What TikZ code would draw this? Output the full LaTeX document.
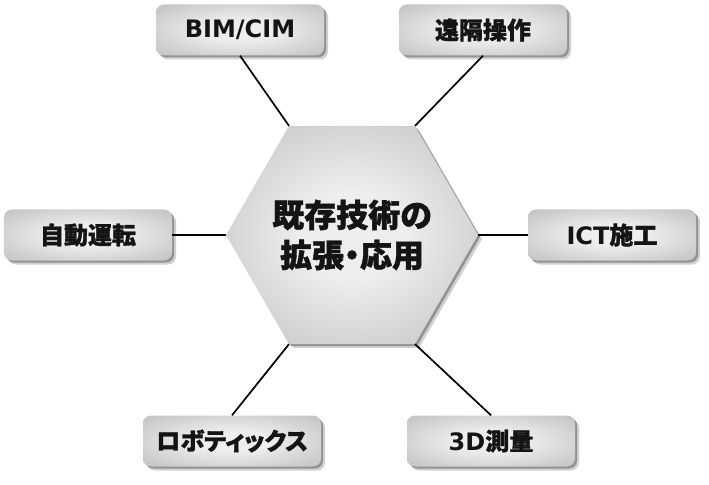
\documentclass[tikz,border=0pt]{standalone}
\usepackage{fontspec}
\setmainfont{DejaVu Sans}
\newfontfamily\jp{Noto Sans CJK JP Bold}[FakeBold=1.2, RawFeature=+palt]
\usetikzlibrary{shapes.geometric, shadows}
\definecolor{glowhi}{RGB}{238,238,238}
\definecolor{glowlo}{RGB}{168,168,168}
\pgfdeclareradialshading{glow}{\pgfpointorigin}{color(0bp)=(glowhi); color(10bp)=(glowhi); color(50bp)=(glowlo); color(72bp)=(glowlo)}
\tikzset{
	softshadow/.style={
		drop shadow={shadow xshift=2bp, shadow yshift=-2bp, opacity=.3, fill=black},
		drop shadow={shadow xshift=4bp, shadow yshift=-4bp, opacity=.18, fill=black}},
	topic/.style={rectangle, rounded corners=8bp, minimum width=168bp, minimum height=51bp,
		shading=glow, softshadow, text=black!92,
		font=\bfseries\fontsize{24bp}{28bp}\selectfont},
	hub/.style={regular polygon, regular polygon sides=6, minimum size=252bp,
		inner sep=0pt, outer sep=0pt, shading=glow, softshadow},
	hubtext/.style={text=black!92, align=center, font=\bfseries\fontsize{32bp}{40bp}\selectfont},
	link/.style={line width=1.7bp, black}}

\begin{document}
\begin{tikzpicture}[x=1bp, y=-1bp]
		\useasboundingbox (0,0) rectangle (709,485);
		
		\node[hub] (hub) at (352,235) {};
		\node[hubtext] (core) at (hub.center) {{\jp 既存技術の}\\{\jp 拡張・応用}};
		\node[topic] (bim) at (240,30) {BIM/CIM};
		\node[topic] (remote) at (483,30) {\jp 遠隔操作};
		\node[topic] (auto) at (88,235) {\jp 自動運転};
		\node[topic] (ict) at (612,235) {ICT{\jp 施工}};
		\node[topic, minimum width=178bp] (robo) at (232,441) {\jp ロボティックス};
		\node[topic] (survey) at (491,441) {3D{\jp 測量}};
		
		\draw[link]
		(bim.south) -- (hub.120)
		(remote.south) -- (hub.60)
		(auto.east) -- (hub.180)
		(ict.west) -- (hub.0)
		(robo.north) -- (hub.240)
		(survey.north) -- (hub.300)
		;
	\end{tikzpicture}
\end{document}
